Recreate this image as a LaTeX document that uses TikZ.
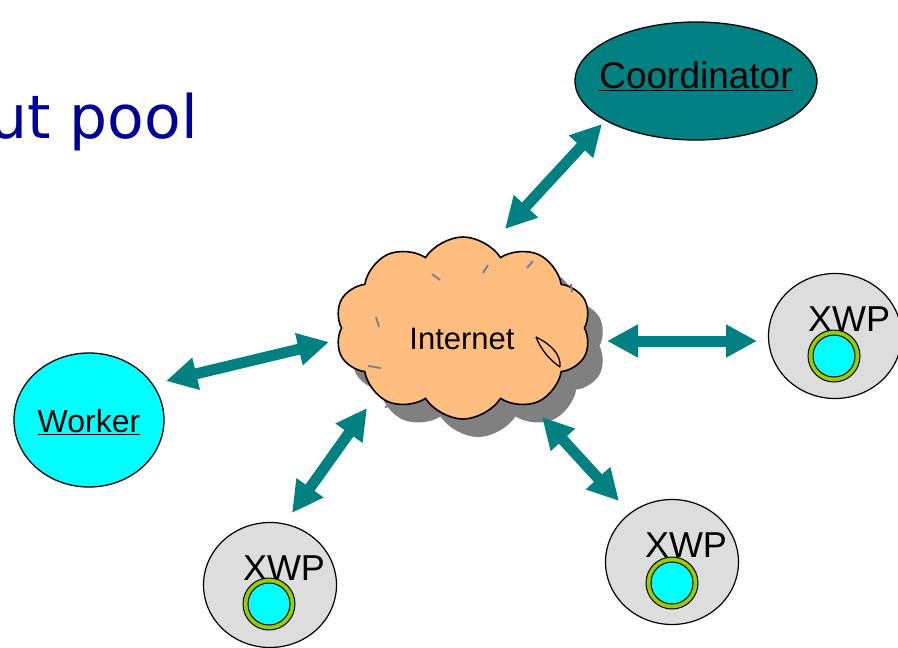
\documentclass[tikz,border=0pt]{standalone}
\usepackage{fontspec}
\setmainfont{Liberation Sans}
\newfontfamily\titlefont{DejaVu Sans}
\usetikzlibrary{shapes.geometric,shapes.symbols,arrows.meta,calc}
\definecolor{tealc}{RGB}{0,128,128}
\definecolor{peach}{RGB}{255,190,128}
\definecolor{shadowgray}{RGB}{128,128,128}
\definecolor{xwpgray}{RGB}{221,221,221}
\definecolor{ringgreen}{RGB}{153,204,0}
\definecolor{navyt}{RGB}{0,0,153}
\definecolor{markgray}{RGB}{125,130,140}
\definecolor{purecyan}{RGB}{0,255,255}
\begin{document}
\begin{tikzpicture}[x=1pt,y=-1pt,
  biarrow/.style={draw=tealc, fill=tealc, line width=11pt,
    {Triangle[length=31pt,width=31pt]}-{Triangle[length=31pt,width=31pt]}},
  xwpbox/.style={ellipse, draw=black, line width=1.2pt, fill=xwpgray,
    minimum width=133pt, minimum height=125pt, inner sep=0pt},
  xwptext/.style={font=\fontsize{36}{42}\selectfont, inner sep=0pt, anchor=base},
  ringout/.style={circle, draw=black, line width=1pt, fill=ringgreen,
    minimum size=52pt, inner sep=0pt},
  ringin/.style={circle, draw=black, line width=1pt, fill=purecyan,
    minimum size=42pt, inner sep=0pt},
  cloudshape/.style={cloud, cloud puffs=10, cloud puff arc=115, aspect=1.4,
    minimum width=256pt, minimum height=182pt, inner sep=0pt},
  inmark/.style={draw=markgray, line width=2pt}
]
\useasboundingbox (0,0) rectangle (898,648);

% title fragment
\node[font=\titlefont\fontsize{60}{70}\selectfont, text=navyt, anchor=base east,
  inner sep=0pt] (title) at (198,138) {ut pool};

% cloud with shadow
\node[cloudshape, fill=shadowgray] (cloudshadow) at (478,346) {};
\node[cloudshape, fill=peach, draw=black, line width=1.6pt] (cloud) at (463,328) {};
\draw[inmark] (432,274) -- (440,280);
\draw[inmark] (483,273) -- (488,265);
\draw[inmark] (527,268) -- (533,261);
\draw[inmark] (571,284) -- (572,292);
\draw[inmark] (376,317) -- (379,327);
\draw[inmark] (368,366) -- (381,368);
\draw[inmark] (588,336) -- (594,330);
\draw[inmark] (385,407) -- (392,405);
\draw[black, line width=1.3pt] (536,337) .. controls (552,345) and (561,355) .. (560,367);
\draw[black, line width=1.3pt] (536,337) .. controls (541,350) and (550,360) .. (560,367);
\node[font=\fontsize{31}{37}\selectfont, anchor=base, inner sep=0pt] (inettext) at (462,349) {Internet};

% coordinator
\node[ellipse, draw=black, line width=1.3pt, fill=tealc, minimum width=242pt,
  minimum height=118pt, inner sep=0pt] (coord) at (696,81) {};
\node[font=\fontsize{37}{44}\selectfont, anchor=base, inner sep=0pt] (coordtext)
  at (696,88) {\underline{Coordinator}};

% worker
\node[ellipse, draw=black, line width=1.3pt, fill=purecyan, minimum width=150pt,
  minimum height=134pt, inner sep=0pt] (worker) at (89,420) {};
\node[font=\fontsize{32}{38}\selectfont, anchor=base, inner sep=0pt] (workertext)
  at (89,432) {\underline{Worker}};

% XWP nodes
\node[xwpbox] (xwpA) at (270,585) {};
\node[xwptext] (xwpAt) at ([shift={(14,-5)}]xwpA.center) {XWP};
\node[ringout] (ringA) at ([shift={(-1,19)}]xwpA.center) {};
\node[ringin] (coreA) at (ringA.center) {};

\node[xwpbox] (xwpB) at (672,562) {};
\node[xwptext] (xwpBt) at ([shift={(14,-5)}]xwpB.center) {XWP};
\node[ringout] (ringB) at ([shift={(0,21)}]xwpB.center) {};
\node[ringin] (coreB) at (ringB.center) {};

\node[xwpbox] (xwpC) at (835,336) {};
\node[xwptext] (xwpCt) at ([shift={(14,-5)}]xwpC.center) {XWP};
\node[ringout] (ringC) at ([shift={(-1,20)}]xwpC.center) {};
\node[ringin] (coreC) at (ringC.center) {};

% connectors
\draw[biarrow] ([shift={(-94,43)}]coord.center) -- ([shift={(42,-99)}]cloud.center);
\draw[biarrow] ([shift={(77,-39)}]worker.center) -- ([shift={(-134,14)}]cloud.center);
\draw[biarrow] ([shift={(22,-72)}]xwpA.center) -- ([shift={(-96,80)}]cloud.center);
\draw[biarrow] ([shift={(-53,-61)}]xwpB.center) -- ([shift={(79,89)}]cloud.center);
\draw[biarrow] ([shift={(-78,5)}]xwpC.center) -- ([shift={(144,13)}]cloud.center);
\end{tikzpicture}
\end{document}
